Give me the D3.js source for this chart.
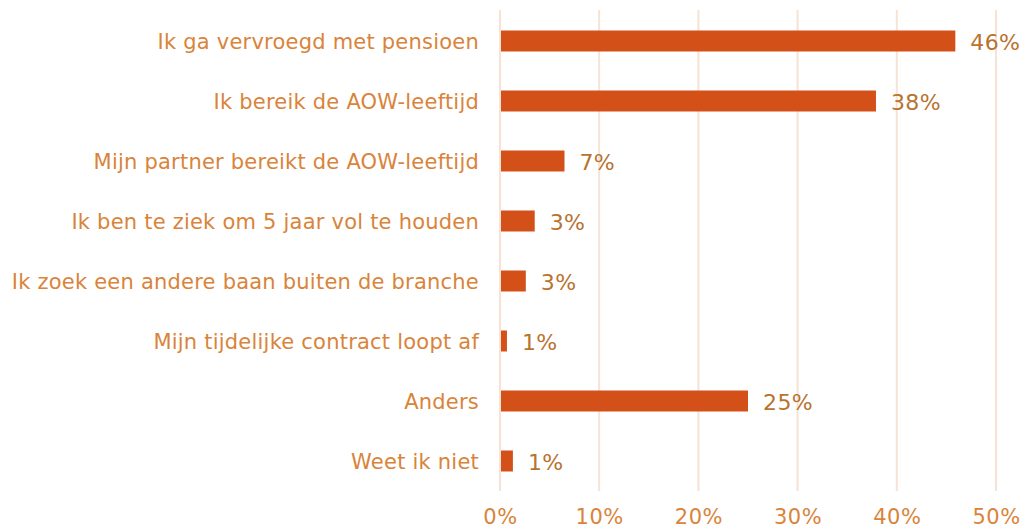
<!DOCTYPE html>
<html>
<head>
<meta charset="utf-8">
<script src="https://cdn.jsdelivr.net/npm/d3@7"></script>
<style>
  body { margin: 0; background: #fff; }
  svg { display: block; }
</style>
</head>
<body>
<script>
const categories = [
    "Ik ga vervroegd met pensioen",
    "Ik bereik de AOW-leeftijd",
    "Mijn partner bereikt de AOW-leeftijd",
    "Ik ben te ziek om 5 jaar vol te houden",
    "Ik zoek een andere baan buiten de branche",
    "Mijn tijdelijke contract loopt af",
    "Anders",
    "Weet ik niet"
];
const values = [45.9, 37.9, 6.5, 3.5, 2.6, 0.7, 25.0, 1.3];
const valueLabels = ["46%", "38%", "7%", "3%", "3%", "1%", "25%", "1%"];
const ticks = [0, 10, 20, 30, 40, 50];

function main(){
    const canvasWidth = 1025;
    const canvasHeight = 528;
    const font = "Verdana, 'DejaVu Sans', sans-serif";

    const svg = d3.select("body").append("svg")
        .attr("width", canvasWidth)
        .attr("height", canvasHeight);

    const xScale = d3.scaleLinear().domain([0, 50]).range([500, 996]);
    const yScale = d3.scaleBand().domain(categories).range([11, 491]).paddingInner(0.65).paddingOuter(0.325);

    // gridlines
    svg.append("g").selectAll("line")
        .data(ticks)
        .join("line")
        .attr("x1", d => xScale(d)).attr("x2", d => xScale(d))
        .attr("y1", 10).attr("y2", 491)
        .attr("stroke", "#f6e3d5")
        .attr("stroke-width", 2);

    // bars
    svg.append("g").selectAll("rect")
        .data(values)
        .join("rect")
        .attr("x", xScale(0) + 1)
        .attr("y", (d, i) => yScale(categories[i]))
        .attr("width", d => xScale(d) - xScale(0) - 1)
        .attr("height", yScale.bandwidth())
        .attr("fill", "#d45019");

    // value labels
    svg.append("g").selectAll("text")
        .data(values)
        .join("text")
        .attr("x", d => xScale(d) + 15)
        .attr("y", (d, i) => yScale(categories[i]) + yScale.bandwidth() / 2 + 1)
        .attr("dy", "0.35em")
        .attr("font-family", font)
        .attr("font-size", "22px")
        .attr("letter-spacing", "0.4px")
        .attr("fill", "#b8732f")
        .text((d, i) => valueLabels[i]);

    // category labels
    const yAxis = svg.append("g")
        .attr("transform", "translate(479,1)")
        .call(d3.axisLeft(yScale).tickSize(0).tickPadding(0));
    yAxis.select(".domain").remove();
    yAxis.selectAll("text")
        .attr("font-family", font)
        .attr("font-size", "21px")
        .attr("letter-spacing", "0.22px")
        .attr("fill", "#d9843a");

    // x axis
    const xAxis = svg.append("g")
        .attr("transform", "translate(0,503)")
        .call(d3.axisBottom(xScale).tickValues(ticks).tickSize(0).tickPadding(0).tickFormat(d => d + "%"));
    xAxis.select(".domain").remove();
    xAxis.selectAll("text")
        .attr("font-family", font)
        .attr("font-size", "21px")
        .attr("letter-spacing", "0.5px")
        .attr("fill", "#d9843a")
        .attr("dy", "1.0em");
}
main();
</script>
</body>
</html>
